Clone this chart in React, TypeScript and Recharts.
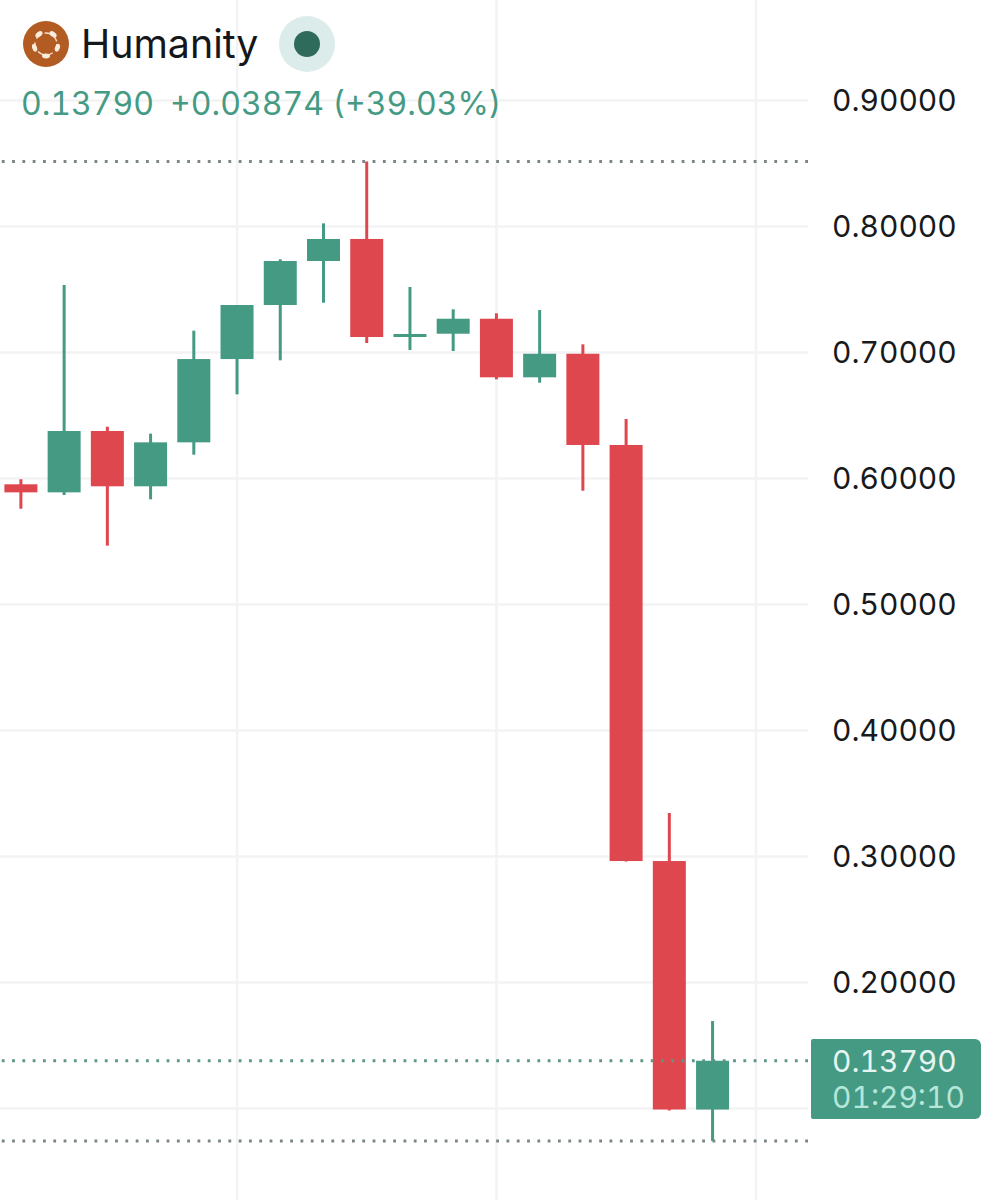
import React from 'react';
import { ComposedChart, Bar, XAxis, YAxis, CartesianGrid, ReferenceLine } from 'recharts';

const opens = [0.5954, 0.589, 0.6377, 0.5938, 0.6287, 0.6948, 0.7377, 0.7726, 0.7901, 0.7123, 0.7149, 0.7268, 0.6803, 0.699, 0.6266, 0.2964, 0.09916];
const closes = [0.589, 0.6377, 0.5938, 0.6287, 0.6948, 0.7377, 0.7726, 0.7901, 0.7123, 0.7147, 0.7268, 0.6803, 0.699, 0.6266, 0.2964, 0.0992, 0.1379];
const highs = [0.5994, 0.7536, 0.6411, 0.6356, 0.7173, 0.7377, 0.774, 0.8025, 0.8516, 0.752, 0.7343, 0.7311, 0.7337, 0.7065, 0.6472, 0.3345, 0.1694];
const lows = [0.576, 0.5869, 0.5467, 0.5835, 0.6189, 0.6668, 0.6938, 0.7395, 0.7075, 0.702, 0.7012, 0.6787, 0.676, 0.5903, 0.296, 0.0985, 0.0742];
const priceTicks = [0.1, 0.2, 0.3, 0.4, 0.5, 0.6, 0.7, 0.8, 0.9];
const timeTicks = [5, 11, 17];

const rangeHigh = 0.8516;
const rangeLow = 0.0742;
const lastPrice = 0.1379;

const data = opens.map((open, i) => ({ i, open, close: closes[i], high: highs[i], low: lows[i] }));

const GREEN = '#459a84';
const RED = '#df474f';
const GRID = '#f3f3f5';
const FONT = 'Inter, "Noto Sans", sans-serif';
const TABULAR = { fontVariantNumeric: 'tabular-nums' } as const;

// body is worked out from the wick rect the bar gives us
const Candle = (props: any) => {
  const { x, y, width, height, payload } = props;
  const { open, close, high, low } = payload;
  const color = close >= open ? GREEN : RED;
  const perUnit = height / (high - low);
  const top = y + (high - Math.max(open, close)) * perUnit;
  const bodyH = Math.max(Math.abs(open - close) * perUnit, 3);
  const cx = x + width / 2;
  return (
    <g>
      <line x1={cx} x2={cx} y1={y} y2={y + height} stroke={color} strokeWidth={3} />
      <rect x={x} y={top} width={width} height={bodyH} fill={color} />
    </g>
  );
};

const Logo = () => (
  <svg width={46} height={46} viewBox="0 0 46 46" style={{ position: 'absolute', left: 23, top: 21 }}>
    <circle cx={23} cy={23} r={23} fill="#b25b22" />
    <circle cx={23} cy={23} r={11} fill="none" stroke="#f6e3cf" strokeWidth={1.4} strokeDasharray="6 4" />
    {[-126, -54, 18, 90, 162].map((a) => (
      <ellipse
        key={a}
        cx={23 + 12 * Math.cos((a * Math.PI) / 180)}
        cy={23 + 12 * Math.sin((a * Math.PI) / 180)}
        rx={4}
        ry={2.4}
        fill="#f9ecdd"
        transform={`rotate(${a + 90} ${23 + 12 * Math.cos((a * Math.PI) / 180)} ${23 + 12 * Math.sin((a * Math.PI) / 180)})`}
      />
    ))}
  </svg>
);

export default function App() {
  return (
    <div style={{ position: 'absolute', left: 0, top: 0, width: 1004, height: 1200, background: '#fff', overflow: 'hidden', fontFamily: FONT }}>
      <ComposedChart width={1004} height={1200} data={data} margin={{ top: 0, right: 0, bottom: 0, left: 0 }}>
        <CartesianGrid stroke={GRID} strokeWidth={2.5} verticalValues={timeTicks} horizontalValues={priceTicks} />
        <XAxis dataKey="i" type="number" domain={[-0.486, 18.205]} ticks={timeTicks} hide allowDataOverflow />
        <YAxis
          orientation="right"
          type="number"
          width={196}
          domain={[0.02738, 0.97976]}
          allowDataOverflow
          ticks={priceTicks}
          tickFormatter={(v: number) => v.toFixed(5)}
          axisLine={false}
          tickLine={false}
          tickSize={0}
          tickMargin={24}
          tick={{ fill: '#17191c', fontSize: 30, fontFamily: FONT, style: TABULAR }}
        />
        <Bar dataKey={(d: any) => [d.low, d.high]} barSize={33} shape={<Candle />} isAnimationActive={false} />
        <ReferenceLine y={rangeHigh} stroke="#7a8586" strokeWidth={2.8} strokeDasharray="2.8 7.5" />
        <ReferenceLine y={lastPrice} stroke="#5d9688" strokeWidth={2.8} strokeDasharray="2.8 7.5" />
        <ReferenceLine y={rangeLow} stroke="#7a8586" strokeWidth={2.8} strokeDasharray="2.8 7.5" />
      </ComposedChart>

      <Logo />
      <div style={{ position: 'absolute', left: 81, top: 20, fontSize: 39.3, lineHeight: '48px', color: '#15171a' }}>Humanity</div>
      <svg width={58} height={58} style={{ position: 'absolute', left: 278, top: 15 }}>
        <circle cx={29} cy={29} r={28} fill="#dcecea" />
        <circle cx={29} cy={29} r={13} fill="#2e6b5b" />
      </svg>
      <div style={{ position: 'absolute', left: 21, top: 85, fontSize: 32, lineHeight: '38px', color: GREEN, whiteSpace: 'pre', ...TABULAR }}>
        <span>0.13790</span>
        <span style={{ marginLeft: 16 }}>+0.03874 (+39.03%)</span>
      </div>

      <div style={{ position: 'absolute', left: 811, top: 1039.3, width: 170, height: 79.3, background: GREEN, borderRadius: '2px 6px 6px 2px' }}>
        <div style={{ position: 'absolute', left: 21, top: 4, fontSize: 30, lineHeight: '36px', color: '#e6f5f1', ...TABULAR }}>0.13790</div>
        <div style={{ position: 'absolute', left: 21, top: 40, fontSize: 30, lineHeight: '36px', color: '#b5e6da', ...TABULAR }}>01:29:10</div>
      </div>
    </div>
  );
}
